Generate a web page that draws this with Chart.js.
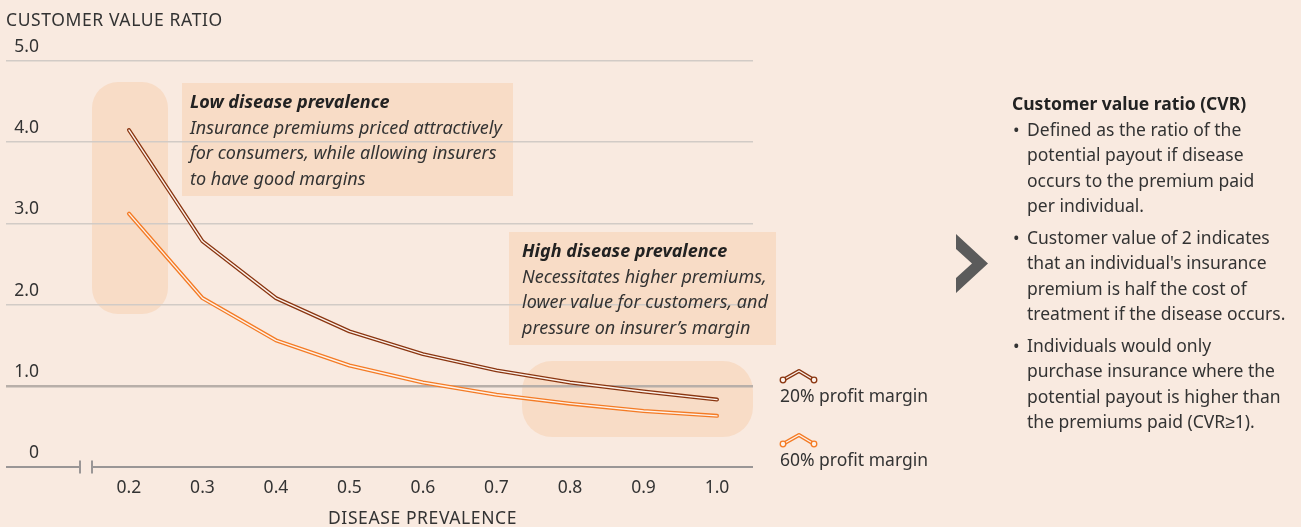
<!DOCTYPE html>
<html>
<head>
<meta charset="utf-8">
<script src="https://cdn.jsdelivr.net/npm/chart.js@4.4.0/dist/chart.umd.min.js"></script>
<style>
  body { margin: 0; background: #f9eae0; }
  #wrap { position: relative; width: 1301px; height: 527px; font-family: "Noto Sans", sans-serif; color: #333; }
  #chart { position: absolute; left: 0; top: 0; }
  .txt { position: absolute; font-size: 17.5px; line-height: 25.5px; white-space: nowrap; }
  .caps { letter-spacing: 0.6px; }
  .note { font-style: italic; color: #333; font-size: 18px; }
  .note b { font-weight: 700; color: #222; }
  ul { margin: 0; padding: 0; list-style: none; }
  li { position: relative; padding-left: 15px; margin-bottom: 6px; }
  li:before { content: "\2022"; position: absolute; left: 1px; }
</style>
</head>
<body>
<div id="wrap">
  <canvas id="chart" width="1301" height="527"></canvas>
  <div class="txt caps" style="left:6px; top:7px;">CUSTOMER VALUE RATIO</div>
  <div class="txt caps" style="left:328px; top:505px;">DISEASE PREVALENCE</div>
  <div class="txt note" style="left:190px; top:89px;"><b>Low disease prevalence</b><br>Insurance premiums priced attractively<br>for consumers, while allowing insurers<br>to have good margins</div>
  <div class="txt note" style="left:522px; top:238px;"><b>High disease prevalence</b><br>Necessitates higher premiums,<br>lower value for customers, and<br>pressure on insurer’s margin</div>
  <div class="txt" id="leg1" style="left:780px; top:383px;"></div>
  <div class="txt" id="leg2" style="left:780px; top:447px;"></div>
  <div class="txt" style="left:1012px; top:91px;">
    <div style="font-weight:700; color:#222;">Customer value ratio (CVR)</div>
    <ul>
      <li>Defined as the ratio of the<br>potential payout if disease<br>occurs to the premium paid<br>per individual.</li>
      <li>Customer value of 2 indicates<br>that an individual's insurance<br>premium is half the cost of<br>treatment if the disease occurs.</li>
      <li>Individuals would only<br>purchase insurance where the<br>potential payout is higher than<br>the premiums paid (CVR≥1).</li>
    </ul>
  </div>
</div>
<script>
// data
const prevalence = [0.2, 0.3, 0.4, 0.5, 0.6, 0.7, 0.8, 0.9, 1.0];
const margin20 = [4.15, 2.78, 2.08, 1.67, 1.39, 1.19, 1.04, 0.93, 0.83];
const margin60 = [3.12, 2.08, 1.56, 1.25, 1.04, 0.89, 0.78, 0.69, 0.63];
const seriesNames = ['20% profit margin', '60% profit margin'];
const xTicks = [0.2, 0.3, 0.4, 0.5, 0.6, 0.7, 0.8, 0.9, 1.0];
const yTicks = [0, 1, 2, 3, 4, 5];

const darkCol = '#8a3510';
const orangeCol = '#f47b25';
const coreCol = '#fdf3ec';
const boxCol = '#f8dcc6';

document.getElementById('leg1').textContent = seriesNames[0];
document.getElementById('leg2').textContent = seriesNames[1];

function pts(vals) {
    return prevalence.map((p, i) => ({ x: p, y: vals[i] }));
}

function roundRect(ctx, x, y, w, h, r) {
    ctx.beginPath();
    ctx.moveTo(x + r, y);
    ctx.arcTo(x + w, y, x + w, y + h, r);
    ctx.arcTo(x + w, y + h, x, y + h, r);
    ctx.arcTo(x, y + h, x, y, r);
    ctx.arcTo(x, y, x + w, y, r);
    ctx.closePath();
    ctx.fill();
}

// boxes behind the grid
const backdrop = {
    id: 'backdrop',
    beforeDraw(chart) {
        const ctx = chart.ctx;
        ctx.save();
        ctx.fillStyle = boxCol;
        roundRect(ctx, 92, 82, 76, 232, 26);
        roundRect(ctx, 522, 361, 231, 76, 30);
        ctx.fillRect(182, 83, 331, 113);
        ctx.fillRect(509, 232, 267, 113);
        ctx.restore();
    }
};

// y labels, broken zero axis, legend markers, chevron
const extras = {
    id: 'extras',
    afterDraw(chart) {
        const ctx = chart.ctx;
        const y = chart.scales.y;
        const area = chart.chartArea;
        ctx.save();
        ctx.font = '17.5px "Noto Sans"';
        ctx.fillStyle = '#333';
        ctx.textAlign = 'right';
        ctx.textBaseline = 'middle';
        y.ticks.forEach(t => {
            const py = y.getPixelForValue(t.value);
            ctx.fillText(t.value === 0 ? '0' : t.value.toFixed(1), 39, py - 14);
        });

        const y0 = y.getPixelForValue(0);
        ctx.strokeStyle = '#9a9696';
        ctx.lineWidth = 2;
        ctx.beginPath();
        ctx.moveTo(area.left, y0); ctx.lineTo(80, y0);
        ctx.moveTo(92, y0); ctx.lineTo(area.right, y0);
        ctx.moveTo(80, y0 - 6.5); ctx.lineTo(80, y0 + 6.5);
        ctx.moveTo(92, y0 - 6.5); ctx.lineTo(92, y0 + 6.5);
        ctx.stroke();

        [[darkCol, 380], [orangeCol, 444]].forEach(([col, by]) => {
            ctx.lineCap = 'round';
            ctx.lineJoin = 'round';
            ctx.beginPath();
            ctx.moveTo(783, by); ctx.lineTo(799, by - 9); ctx.lineTo(814, by);
            ctx.strokeStyle = col; ctx.lineWidth = 3.8; ctx.stroke();
            ctx.strokeStyle = coreCol; ctx.lineWidth = 1.4; ctx.stroke();
            [783, 814].forEach(cx => {
                ctx.beginPath();
                ctx.arc(cx, by, 2.8, 0, Math.PI * 2);
                ctx.fillStyle = coreCol; ctx.fill();
                ctx.strokeStyle = col; ctx.lineWidth = 1.3; ctx.stroke();
            });
        });

        ctx.fillStyle = '#5b5b5b';
        ctx.beginPath();
        ctx.moveTo(956, 234); ctx.lineTo(988, 263.5); ctx.lineTo(956, 293);
        ctx.lineTo(956, 278); ctx.lineTo(972, 263.5); ctx.lineTo(956, 249);
        ctx.closePath();
        ctx.fill();
        ctx.restore();
    }
};

function lineSet(vals, color, width, order) {
    return {
        data: pts(vals),
        borderColor: color,
        borderWidth: width,
        borderCapStyle: 'round',
        borderJoinStyle: 'round',
        pointRadius: 0,
        tension: 0,
        order: order
    };
}

new Chart(document.getElementById('chart'), {
    type: 'line',
    data: {
        datasets: [
            lineSet(margin20, coreCol, 1.4, 0),
            lineSet(margin60, coreCol, 1.4, 0),
            lineSet(margin20, darkCol, 4, 1),
            lineSet(margin60, orangeCol, 4, 1)
        ]
    },
    options: {
        responsive: false,
        animation: false,
        events: [],
        layout: { padding: { left: 6, right: 548, top: 61, bottom: 0 } },
        plugins: { legend: { display: false }, tooltip: { enabled: false } },
        scales: {
            x: {
                type: 'linear',
                min: 0.0327,
                max: 1.049,
                afterBuildTicks: s => { s.ticks = xTicks.map(v => ({ value: v })); },
                afterFit: s => { s.height = 60; },
                grid: { display: false, drawTicks: false },
                border: { display: false },
                ticks: {
                    padding: 11,
                    color: '#333',
                    font: { family: 'Noto Sans', size: 17.5 },
                    callback: v => v.toFixed(1)
                }
            },
            y: {
                min: 0,
                max: 5,
                afterBuildTicks: s => { s.ticks = yTicks.map(v => ({ value: v })); },
                afterFit: s => { s.width = 0; },
                ticks: { display: false },
                border: { display: false },
                grid: {
                    drawTicks: false,
                    color: c => c.tick.value === 0 ? 'rgba(0,0,0,0)' : (c.tick.value === 1 ? '#b8afa9' : '#d2cbc6'),
                    lineWidth: c => c.tick.value === 1 ? 2.5 : 1.5
                }
            }
        }
    },
    plugins: [backdrop, extras]
});
</script>
</body>
</html>
